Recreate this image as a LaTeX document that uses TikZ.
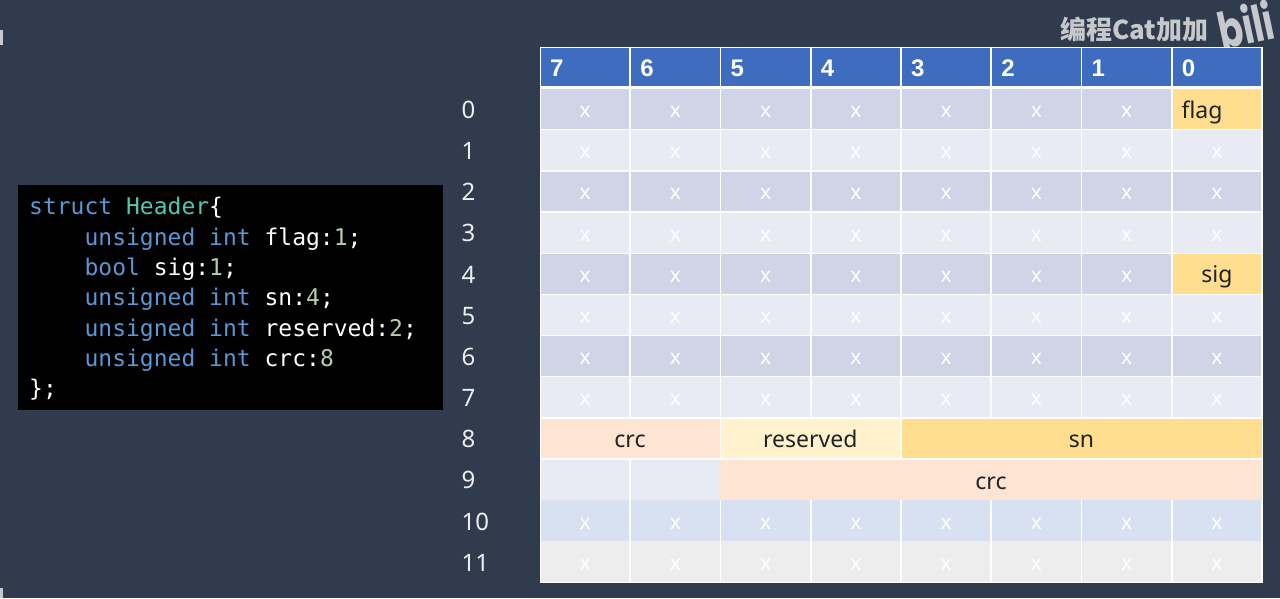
\documentclass[tikz,border=0pt]{standalone}
\usepackage{fontspec}
\setmainfont{Noto Sans}
\setmonofont{DejaVu Sans Mono}
\newfontfamily\headfont{Liberation Sans}
\newfontfamily\cjkfont{Noto Sans CJK SC}
\newfontfamily\logofont{Poppins}
\definecolor{slatebg}{HTML}{303C4D}
\definecolor{headblue}{HTML}{3E6DC0}
\definecolor{rowdark}{HTML}{CFD5E7}
\definecolor{rowlight}{HTML}{E8EAF4}
\definecolor{rowblue}{HTML}{D8E1F1}
\definecolor{rowgrey}{HTML}{EDEDED}
\definecolor{flagyellow}{HTML}{FFDF8F}
\definecolor{resyellow}{HTML}{FFF2CC}
\definecolor{crcpeach}{HTML}{FDE4D3}
\definecolor{kwblue}{HTML}{5B97D5}
\definecolor{typegreen}{HTML}{4EC9B0}
\definecolor{numgreen}{HTML}{B5CEA8}
\definecolor{markgrey}{HTML}{C6C8CB}
\definecolor{inkdark}{HTML}{222222}
\newcommand{\kw}[1]{\textcolor{kwblue}{#1}}
\newcommand{\num}[1]{\textcolor{numgreen}{#1}}
\newcommand{\ind}{\hspace*{55.4pt}}
\begin{document}
\begin{tikzpicture}[x=1pt,y=-1pt,
    cellbox/.style = {rectangle, inner sep=0pt, minimum width=88.6pt, minimum height=39.8pt,
        text height=18pt, text depth=0pt, text=inkdark, font=\fontsize{23}{23}\selectfont},
    xcell/.style = {cellbox, text=white, text height=17pt, font=\fontsize{21}{21}\selectfont},
    headcell/.style = {cellbox, fill=headblue, text=white, minimum height=38.5pt, text height=19pt,
        text width=70pt, align=left, font=\fontsize{24}{24}\headfont\bfseries\selectfont},
    rowlabel/.style = {anchor=base west, inner sep=0pt, text=white!92!slatebg, font=\fontsize{24}{24}\selectfont}]
    \useasboundingbox (0,0) rectangle (1280,598);
    \fill[slatebg] (0,0) rectangle (1280,598);
    \fill[markgrey] (0,30) rectangle (3,45);
    \fill[markgrey] (0,588) rectangle (3,598);

    % code listing
    \node[fill=black, minimum width=425pt, minimum height=225pt, inner sep=0pt] (codebox) at (230.5,297.5) {};
    \node[anchor=north west, inner sep=0pt, align=left, text=white,
        font=\fontsize{23}{30.3}\ttfamily\selectfont] (code) at (29,197.3)
        {\kw{struct} \textcolor{typegreen}{Header}\{\\
        \ind\kw{unsigned int} flag:\num{1};\\
        \ind\kw{bool} sig:\num{1};\\
        \ind\kw{unsigned int} sn:\num{4};\\
        \ind\kw{unsigned int} reserved:\num{2};\\
        \ind\kw{unsigned int} crc:\num{8}\\
        \};};

    % watermark
    \node[anchor=base west, inner sep=0pt, text=markgrey, font=\fontsize{26}{26}\cjkfont\bfseries\selectfont] (mark) at (1060,39) {编程Cat加加};
    \node[anchor=base west, inner sep=0pt, text=markgrey, rotate=12, xscale=.72, font=\fontsize{50}{50}\logofont\bfseries\selectfont] (logo) at (1222,50) {bili};

    % white sheet behind the table
    \node[fill=white!97!rowlight, anchor=north west, minimum width=723pt, minimum height=535.5pt, inner sep=0pt] (sheet) at (539.5,47) {};

    % bit numbers
    \foreach \c/\bit in {0/7,1/6,2/5,3/4,4/3,5/2,6/1,7/0}
        \node[headcell] (h\bit) at ({540+90.25*(\c+.5)},67.2) {\bit};

    % row numbers and x cells
    \foreach \r in {0,...,11}
        \node[rowlabel] (r\r) at (461.5,{88.5+41.17*(\r+.5)+9.3}) {\r};
    \foreach \r/\rowfill in {0/rowdark,1/rowlight,2/rowdark,3/rowlight,4/rowdark,5/rowlight,6/rowdark,7/rowlight}
        \foreach \c in {0,...,6}
            \node[xcell, fill=\rowfill] (x\r-\c) at ({540+90.25*(\c+.5)},{88.5+41.17*(\r+.5)}) {x};
    \foreach \r/\rowfill in {1/rowlight,2/rowdark,3/rowlight,5/rowlight,6/rowdark,7/rowlight}
        \node[xcell, fill=\rowfill] (x\r-7) at ({540+90.25*7.5},{88.5+41.17*(\r+.5)}) {x};
    \foreach \c in {0,...,7} {
        \node[xcell, fill=rowblue, minimum height=41.3pt] (x10-\c) at ({540+90.25*(\c+.5)},521) {x};
        \node[xcell, fill=rowgrey, minimum height=41.3pt] (x11-\c) at ({540+90.25*(\c+.5)},561.7) {x};
    }

    % fields
    \node[cellbox, fill=flagyellow, text width=70.6pt, align=left] (flag) at ({540+90.25*7.5},109.1) {flag};
    \node[cellbox, fill=flagyellow] (sig) at ({540+90.25*7.5},273.7) {sig};
    \node[cellbox, fill=crcpeach, minimum width=179pt] (crclow) at (630,438.4) {crc};
    \node[cellbox, fill=resyellow, minimum width=179pt] (reserved) at (810.3,438.4) {reserved};
    \node[cellbox, fill=flagyellow, minimum width=360pt] (sn) at (1081.5,438.4) {sn};
    \node[cellbox, fill=rowlight, minimum width=88.6pt, minimum height=40.6pt] (pad7) at (585.1,480) {};
    \node[cellbox, fill=rowlight, minimum width=88.6pt, minimum height=40.6pt] (pad6) at (675.4,480) {};
    \node[cellbox, fill=crcpeach, minimum width=542.5pt, minimum height=40.6pt] (crchigh) at (991,480) {crc};
\end{tikzpicture}
\end{document}
